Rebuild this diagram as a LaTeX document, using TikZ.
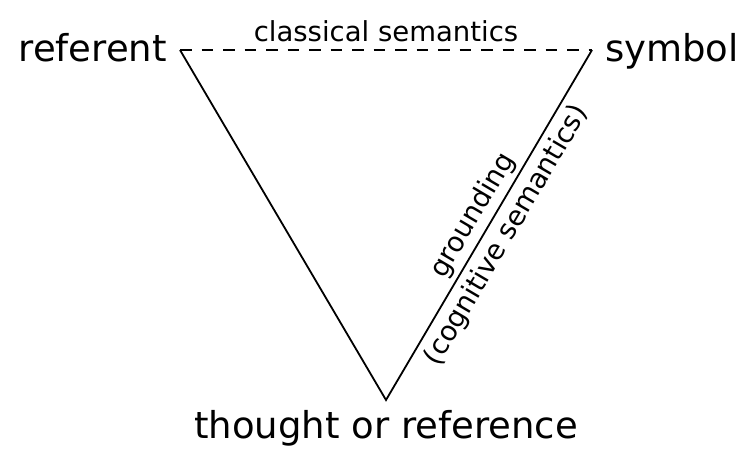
\documentclass[tikz,border=0pt]{standalone}
\usepackage{fontspec}
\setmainfont{DejaVu Sans}
\definecolor{ink}{HTML}{000000}

\begin{document}
\begin{tikzpicture}[x=1pt,y=1pt,
    corner/.style={font=\fontsize{37}{44}\selectfont,inner sep=0pt},
    edgelabel/.style={font=\fontsize{27.5}{33}\selectfont},
    side/.style={draw=ink,line width=1.8pt}]
  \useasboundingbox (0,0) rectangle (744,448);
  % the three corners, measured off the original in pixels
  \coordinate (ref) at (180,398);
  \coordinate (sym) at (592,398);
  \coordinate (tor) at (386,48);

  \node[corner,anchor=base east] (referent) at (167,386.5) {referent};
  \node[corner,anchor=base west] (symbol) at (605,386.5) {symbol};
  \node[corner,anchor=base] (thought) at (386,10) {thought or reference};

  % top side is the dashed one
  \draw[side,dashed,dash pattern=on 11.5pt off 10pt] (ref) --
    node[edgelabel,midway,above=4pt] (classical) {classical semantics} (sym);
  \draw[side] (ref) -- (tor) --
    node[edgelabel,midway,sloped,above=1pt] (grounding) {grounding}
    node[edgelabel,midway,sloped,below=3pt] (cognitive) {(cognitive semantics)} (sym);
\end{tikzpicture}
\end{document}
